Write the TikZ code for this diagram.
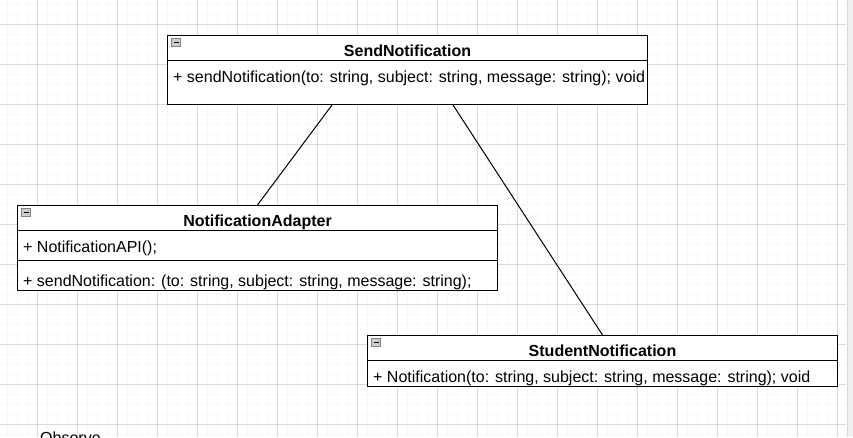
\documentclass[tikz,border=0pt]{standalone}
\usepackage{fontspec}
\setmainfont{Liberation Sans}
\usepackage{tikz}
\usetikzlibrary{calc}
\definecolor{gridmajor}{RGB}{218,218,218}
\definecolor{gridminor}{RGB}{247,247,247}
\definecolor{iconfill}{RGB}{205,205,205}
\definecolor{iconedge}{RGB}{130,130,130}

\tikzset{
  classbox/.style={draw=black, line width=1pt, fill=white, anchor=north west, inner sep=0pt},
  classtitle/.style={font=\fontsize{16}{19}\selectfont\bfseries, anchor=base, inner sep=0pt},
  member/.style={font=\fontsize{16}{19}\selectfont, anchor=base west, inner sep=0pt}
}

% small collapse icon in the top left corner of a class box
\newcommand{\foldicon}[1]{
  \draw[color=iconedge, fill=iconfill, line width=0.8pt] ($(#1.north west)+(4.5,3.5)$) rectangle ($(#1.north west)+(13.5,11.5)$);
  \draw[color=black, line width=1.2pt] ($(#1.north west)+(6.5,7.5)$) -- ($(#1.north west)+(11.5,7.5)$);
}

\begin{document}
\begin{tikzpicture}[x=1pt,y=-1pt]
  \clip (0,0) rectangle (853,437);
  \fill[white] (0,0) rectangle (853,437);
  % background grid
  \foreach \x in {7,17,...,847}
  {
  \draw[color=gridminor, line width=1pt] (\x,0) -- (\x,437);
  }
  \foreach \y in {4,14,...,434}
  {
  \draw[color=gridminor, line width=1pt] (0,\y) -- (846,\y);
  }
  \foreach \x in {37,77,...,837}
  {
  \draw[color=gridmajor, line width=1pt] (\x,0) -- (\x,437);
  }
  \foreach \y in {24,64,...,424}
  {
  \draw[color=gridmajor, line width=1pt] (0,\y) -- (846,\y);
  }
  \fill[color=black!6] (847,0) rectangle (853,437);
  \draw[color=black!15, line width=1pt] (847.5,0) -- (847.5,437);

  \node[member] (observe) at (40,443.5) {Observe};

  % SendNotification
  \node[classbox, minimum width=480, minimum height=69] (send) at (167,35) {};
  \draw[line width=1pt] ($(send.north west)+(0,25)$) -- ($(send.north east)+(0,25)$);
  \foldicon{send}
  \node[classtitle] (sendtitle) at ($(send.north)+(0,21)$) {SendNotification};
  \node[member] (sendop) at ($(send.north west)+(6,47)$) {+ sendNotification(to: string, subject: string, message: string); void};

  % NotificationAdapter
  \node[classbox, minimum width=480, minimum height=85] (adapter) at (17,205) {};
  \draw[line width=1pt] ($(adapter.north west)+(0,25)$) -- ($(adapter.north east)+(0,25)$);
  \draw[line width=1pt] ($(adapter.north west)+(0,55)$) -- ($(adapter.north east)+(0,55)$);
  \foldicon{adapter}
  \node[classtitle] (adaptertitle) at ($(adapter.north)+(0,21)$) {NotificationAdapter};
  \node[member] (adapterattr) at ($(adapter.north west)+(6,47)$) {+ NotificationAPI();};
  \node[member] (adapterop) at ($(adapter.north west)+(6,81)$) {+ sendNotification: (to: string, subject: string, message: string);};

  % StudentNotification
  \node[classbox, minimum width=470, minimum height=51] (student) at (367,335) {};
  \draw[line width=1pt] ($(student.north west)+(0,25)$) -- ($(student.north east)+(0,25)$);
  \foldicon{student}
  \node[classtitle] (studenttitle) at ($(student.north)+(0,21)$) {StudentNotification};
  \node[member] (studentop) at ($(student.north west)+(6,47)$) {+ Notification(to: string, subject: string, message: string); void};

  % associations
  \coordinate (sendleft) at ($(send.south west)+(165,0)$);
  \coordinate (sendright) at ($(send.south west)+(286,0)$);
  \draw[color=black, line width=1pt] (sendleft) -- (adapter.north);
  \draw[color=black, line width=1pt] (sendright) -- (student.north);
\end{tikzpicture}
\end{document}
